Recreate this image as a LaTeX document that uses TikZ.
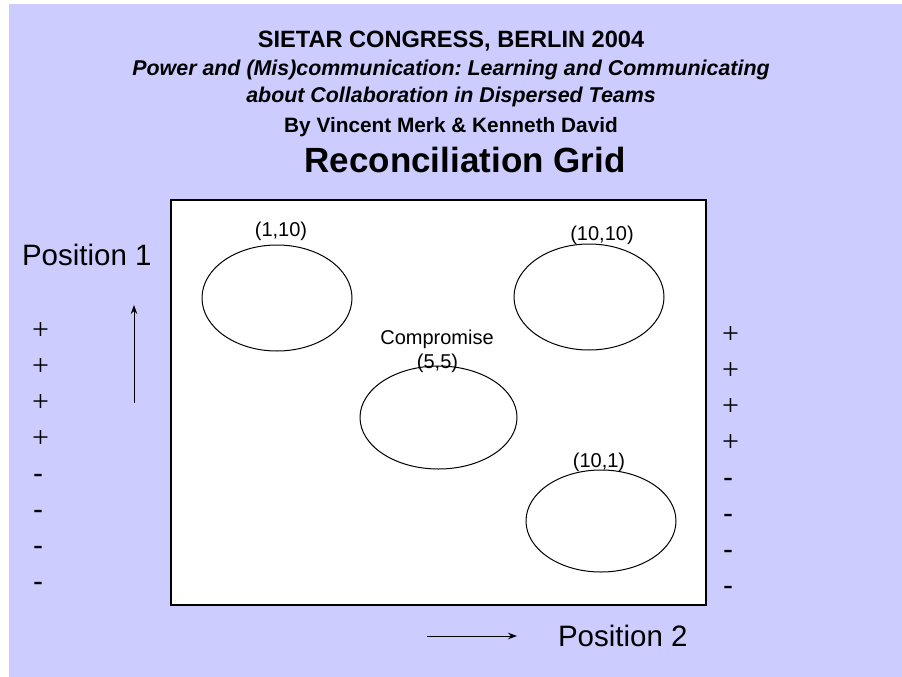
\documentclass[tikz,border=0pt]{standalone}
\usepackage{fontspec}
\setmainfont{Liberation Sans}
\newfontfamily\plusfont{Liberation Serif}
\usetikzlibrary{shapes.geometric,arrows.meta}
\definecolor{slidebg}{RGB}{204,204,255}
\newcommand{\fs}[1]{\fontsize{#1}{#1}\selectfont}
\frenchspacing
\tikzset{
  txt/.style={inner sep=0pt, outer sep=0pt, anchor=base},
  zone/.style={ellipse, draw=black, line width=1pt, inner sep=0pt,
    minimum width=150pt, minimum height=106pt},
  axisarrow/.style={line width=1pt, -{Stealth[length=9pt,width=6.5pt]}},
  sign/.style={txt, anchor=base west, font=\fs{30}},
}
\begin{document}
\begin{tikzpicture}[x=1pt,y=-1pt]
  \useasboundingbox (0,0) rectangle (902,677);
  \fill[white] (0,0) rectangle (902,677);
  \fill[slidebg] (9,4) rectangle (902,677);

  % heading
  \node[txt, font=\bfseries\fs{23.6}] (t1) at (451,48) {SIETAR CONGRESS, BERLIN 2004};
  \node[txt, font=\bfseries\itshape\fs{21.4}] (t2) at (451,76) {Power and (Mis)communication: Learning and Communicating};
  \node[txt, font=\bfseries\itshape\fs{21.4}] (t3) at (451,102.5) {about Collaboration in Dispersed Teams};
  \node[txt, font=\bfseries\fs{20.8}] (t4) at (451,132) {By Vincent Merk \& Kenneth David};
  \node[txt, font=\bfseries\fs{35}] (t5) at (465,172) {Reconciliation Grid};

  % the grid
  \node[draw=black, fill=white, line width=1.2pt, inner sep=0pt,
        minimum width=535pt, minimum height=405pt] (grid) at (438.5,402.5) {};

  \node[zone] (e1) at (277,298) {};
  \node[zone] (e2) at (589,297) {};
  \node[zone, minimum width=157pt, minimum height=103pt] (e3) at (438.5,417.5) {};
  \node[zone, minimum height=102pt] (e4) at (601,521) {};

  \node[txt, font=\fs{20}] (l1) at (281,236) {(1,10)};
  \node[txt, font=\fs{20}] (l2) at (602,240) {(10,10)};
  \node[txt, font=\fs{20}] (l3) at (437,344) {Compromise};
  \node[txt, font=\fs{20}] (l4) at (437.5,368) {(5,5)};
  \node[txt, font=\fs{20}] (l5) at (599,467) {(10,1)};

  % axes
  \node[txt, anchor=base west, font=\fs{29.5}] (p1) at (22,265) {Position 1};
  \node[txt, anchor=base west, font=\fs{29.5}] (p2) at (558,646) {Position 2};
  \coordinate (ua) at (134,403);
  \coordinate (ub) at (134,305);
  \draw[axisarrow] (ua) -- (ub);
  \coordinate (ra) at (427,636);
  \coordinate (rb) at (517,636);
  \draw[axisarrow] (ra) -- (rb);

  % scales beside the grid: thin plus signs, then hyphens
  \foreach \i in {0,...,3} {
    \node[sign, font=\plusfont\fs{30}] (ls\i) at (32,339+36*\i) {+};
    \node[sign, font=\plusfont\fs{30}] (rs\i) at (722,343+36*\i) {+};
  }
  \foreach \i in {4,...,7} {
    \node[sign] (ls\i) at (33,339+36*\i) {-};
    \node[sign] (rs\i) at (723,343+36*\i) {-};
  }
\end{tikzpicture}
\end{document}
